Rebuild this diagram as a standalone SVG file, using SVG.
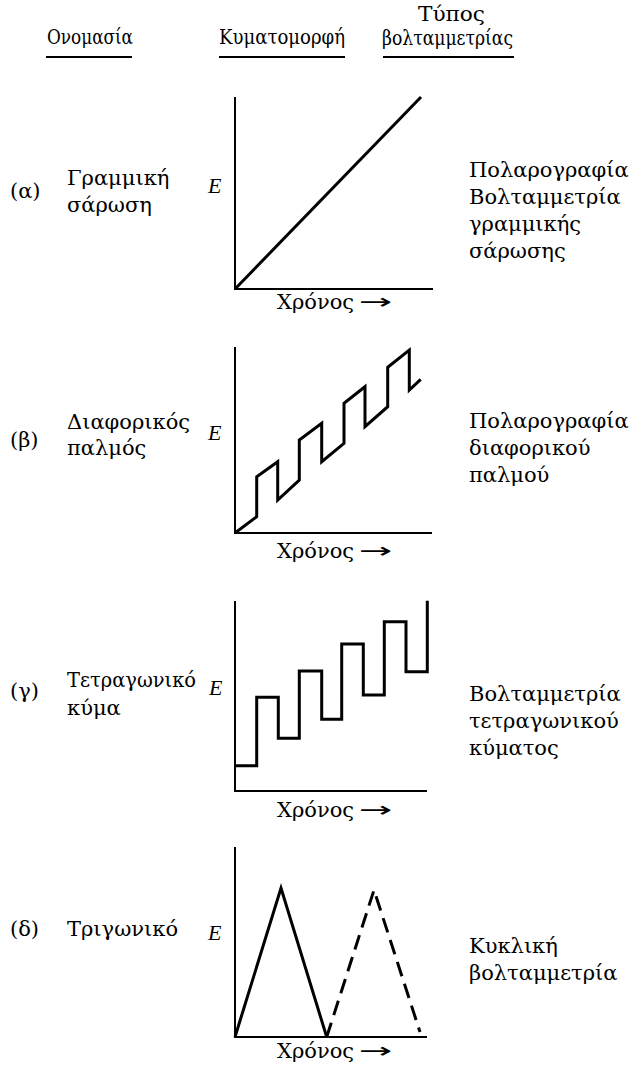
<svg xmlns="http://www.w3.org/2000/svg" width="632" height="1070" viewBox="0 0 632 1070">
<style>
text{font-family:"DejaVu Serif","Liberation Serif",serif;font-size:21px;fill:#000}
.h{font-size:19.5px}
.e{font-family:"Liberation Serif",serif;font-style:italic;font-size:22px}
.ar{font-family:"DejaVu Sans",sans-serif;font-size:21px}
.ax{stroke:#000;stroke-width:2;fill:none}
.wv{stroke:#000;stroke-width:3;fill:none;stroke-linejoin:miter}
.ul{stroke:#000;stroke-width:2}
.dash{stroke-dasharray:15 8}
</style>
<rect width="632" height="1070" fill="#fff"/>
<g id="header">
<text class="h" x="47" y="44" textLength="86" lengthAdjust="spacingAndGlyphs">Ονομασία</text>
<line class="ul" x1="46" y1="57" x2="132" y2="57"/>
<text class="h" x="219" y="44" textLength="126" lengthAdjust="spacingAndGlyphs">Κυματομορφή</text>
<line class="ul" x1="219" y1="57" x2="345" y2="57"/>
<text class="h" x="418" y="21" textLength="67" lengthAdjust="spacingAndGlyphs">Τύπος</text>
<text class="h" x="382" y="45" textLength="131" lengthAdjust="spacingAndGlyphs">βολταμμετρίας</text>
<line class="ul" x1="383" y1="57" x2="514" y2="57"/>
</g>
<g id="row-a">
<text x="10" y="198">(α)</text>
<text x="67" y="185">Γραμμική</text>
<text x="67" y="212">σάρωση</text>
<text class="e" x="208" y="193">E</text>
<path class="ax" d="M235,97 V289 H433"/>
<path class="wv" d="M235,289 L421,97"/>
<text x="277" y="309">Χρόνος</text>
<text class="ar" transform="translate(359,309) scale(1.9,1)">→</text>
<text x="469" y="177">Πολαρογραφία</text>
<text x="469" y="204">Βολταμμετρία</text>
<text x="469" y="231">γραμμικής</text>
<text x="469" y="258">σάρωσης</text>
</g>
<g id="row-b">
<text x="10" y="447">(β)</text>
<text x="67" y="429">Διαφορικός</text>
<text x="67" y="455">παλμός</text>
<text class="e" x="208" y="440">E</text>
<path class="ax" d="M235,347 V533 H432"/>
<path class="wv" d="M235,533 L256.7,516.7 V476.7 L277.7,461.7 V500 L299.3,480 V440 L321.7,423.3 V461.7 L344,443.3 V403.3 L365,386.7 V426.7 L387.7,406.7 V367.3 L409.3,350 V390 L420.7,379.3"/>
<text x="277" y="558">Χρόνος</text>
<text class="ar" transform="translate(359,558) scale(1.9,1)">→</text>
<text x="469" y="428">Πολαρογραφία</text>
<text x="469" y="455">διαφορικού</text>
<text x="469" y="482">παλμού</text>
</g>
<g id="row-c">
<text x="10" y="698">(γ)</text>
<text x="67" y="687" textLength="129" lengthAdjust="spacingAndGlyphs">Τετραγωνικό</text>
<text x="67" y="715">κύμα</text>
<text class="e" x="209" y="695">E</text>
<path class="ax" d="M235,601 V791 H427"/>
<path class="wv" d="M235,765.7 H256.7 V697.3 H278.3 V738.3 H299.3 V671 H321.7 V719.3 H341.7 V644 H363.3 V695 H384.3 V621.7 H406 V671.7 H427.3 V600.7"/>
<text x="277" y="817">Χρόνος</text>
<text class="ar" transform="translate(359,817) scale(1.9,1)">→</text>
<text x="469" y="701">Βολταμμετρία</text>
<text x="469" y="728">τετραγωνικού</text>
<text x="469" y="755">κύματος</text>
</g>
<g id="row-d">
<text x="10" y="936">(δ)</text>
<text x="67" y="936">Τριγωνικό</text>
<text class="e" x="208" y="940">E</text>
<path class="ax" d="M235,847 V1037 H427"/>
<path class="wv" d="M235,1037 L281,888 L326.7,1037"/>
<path class="wv dash" d="M326.7,1037 L374,890 L420,1032"/>
<text x="277" y="1058">Χρόνος</text>
<text class="ar" transform="translate(359,1058) scale(1.9,1)">→</text>
<text x="469" y="953">Κυκλική</text>
<text x="469" y="980">βολταμμετρία</text>
</g>
</svg>
